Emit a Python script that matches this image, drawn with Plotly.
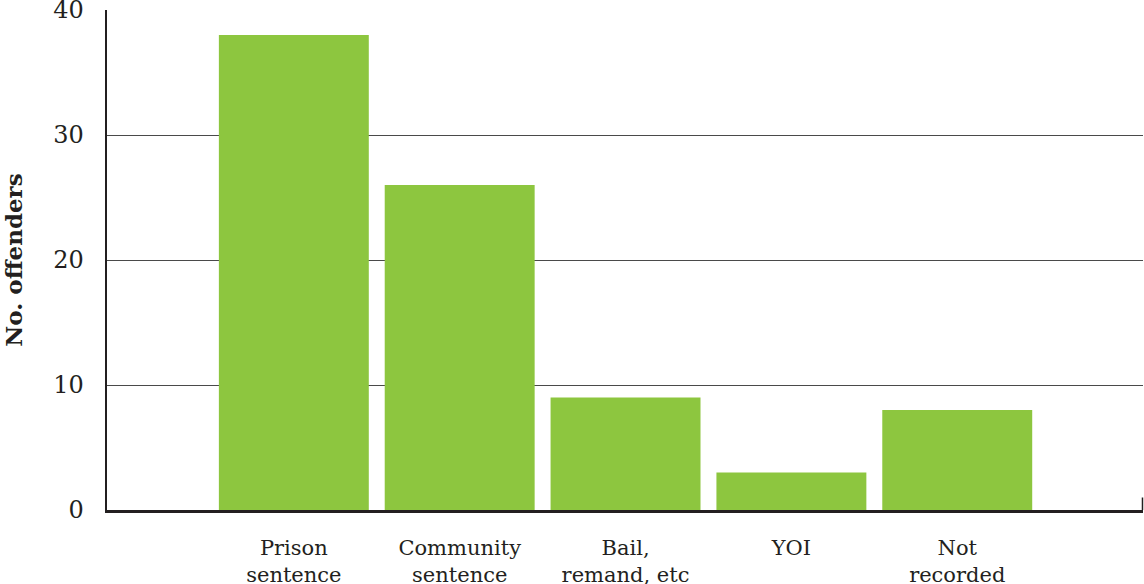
import plotly.graph_objects as go

categories = ["Prison<br>sentence", "Community<br>sentence", "Bail,<br>remand, etc", "YOI", "Not<br>recorded"]
offenders = [38, 26, 9, 3, 8]
y_ticks = [0, 10, 20, 30, 40]

FONT = "DejaVu Serif"
INK = "#231f20"

fig = go.Figure(go.Bar(
    x=list(range(len(categories))), y=offenders,
    marker=dict(color="#8dc63f", line=dict(width=0)),
    hoverinfo="skip",
))

fig.update_layout(
    width=1144, height=584,
    margin=dict(l=107, r=1, t=10, b=74, autoexpand=False),
    paper_bgcolor="white", plot_bgcolor="white",
    bargap=0.096,
    showlegend=False,
    font=dict(family=FONT, color=INK),
)
fig.update_xaxes(
    range=[-1.1265, 5.12], automargin=False,
    tickmode="array", tickvals=list(range(len(categories))), ticktext=categories,
    tickfont=dict(family=FONT, size=21, color=INK),
    ticks="outside", ticklen=0, ticklabelstandoff=17,
    ticklabeloverflow="allow",
    showgrid=False, zeroline=False,
    showline=True, linecolor=INK, linewidth=2.5,
)
fig.update_yaxes(
    range=[0, 40], automargin=False,
    tickmode="array", tickvals=y_ticks,
    tickfont=dict(family=FONT, size=24, color=INK),
    ticks="outside", ticklen=0, ticklabelstandoff=16,
    ticklabeloverflow="allow",
    showgrid=True, gridcolor="#4a4a4a", gridwidth=1,
    zeroline=False,
    showline=True, linecolor=INK, linewidth=2.5,
    title=dict(text="<b>No. offenders</b>", font=dict(family=FONT, size=23, color=INK), standoff=24),
)
fig.add_shape(type="line", xref="paper", yref="paper", x0=0.9995, x1=0.9995, y0=0, y1=0.025,
              line=dict(color=INK, width=1.5))

fig.write_html(
    "out.html",
    config={"displayModeBar": False, "staticPlot": True},
    post_script="document.body.style.margin='0';document.body.style.overflow='hidden';",
)
